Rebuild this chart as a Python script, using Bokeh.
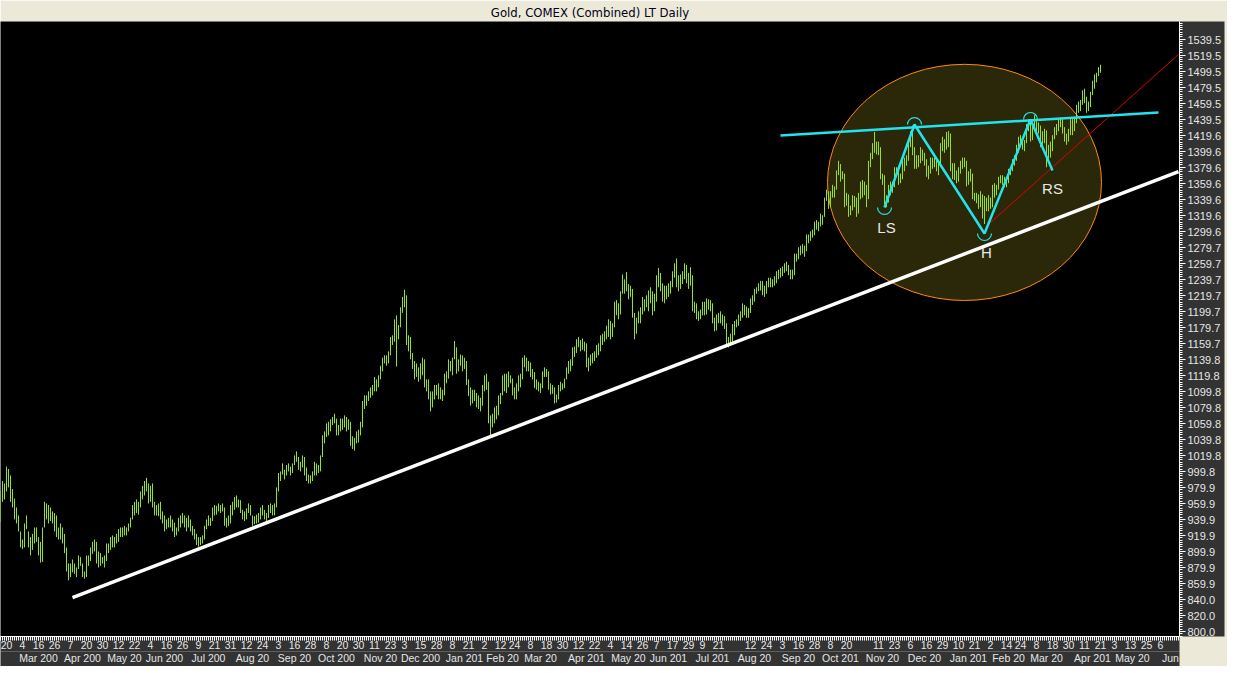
import numpy as np
import pandas as pd
from bokeh.plotting import figure
from bokeh.models import FixedTicker, LinearAxis, Range1d
from bokeh.core.properties import value
from bokeh.embed import file_html
from bokeh.resources import INLINE

# ---------------- data ----------------
title_text = "Gold, COMEX (Combined) LT Daily"
first_trading_day = "2009-02-17"
calendar_end = "2011-06-30"
exchange_holidays = ["2009-04-10", "2009-05-25", "2009-07-03", "2009-09-07", "2009-11-26",
                     "2009-12-25", "2010-01-01", "2010-01-18", "2010-02-15", "2010-04-02",
                     "2010-05-31", "2010-07-05", "2010-09-06", "2010-11-25", "2010-12-24",
                     "2011-01-17", "2011-02-21", "2011-04-22", "2011-05-30"]

highs = [
    976, 988, 985, 1006, 1003, 995, 978, 966, 955,  # Feb 09
    945, 925, 915, 935, 945, 925, 918, 922, 930, 930, 918, 912, 930, 962, 960, 958, 955, 950, 948, 945, 930, 935,  # Mar 09
    930, 922, 905, 885, 885, 890, 885, 880, 895, 893, 885, 875, 895, 895, 905, 912, 915, 912, 900, 898, 893,  # Apr 09
    895, 910, 910, 918, 920, 918, 922, 928, 930, 930, 932, 930, 935, 942, 958, 962, 965, 962, 975, 982,  # May 09
    988, 992, 985, 982, 985, 962, 958, 960, 962, 950, 945, 940, 942, 945, 940, 936, 930, 942, 945, 948, 945, 942,  # Jun 09
    945, 940, 932, 928, 922, 918, 918, 920, 932, 940, 945, 942, 955, 958, 957, 960, 958, 960, 955, 942, 945, 958,  # Jul 09
    962, 968, 970, 965, 964, 952, 950, 954, 960, 958, 945, 944, 946, 948, 955, 958, 952, 948, 958, 960, 958,  # Aug 09
    960, 980, 998, 1000, 1010, 1002, 1008, 1010, 1006, 1010, 1020, 1025, 1018, 1012, 1020, 1018, 1005, 996, 995, 1000, 1012,  # Sep 09
    1010, 1008, 1020, 1045, 1050, 1060, 1062, 1065, 1068, 1072, 1066, 1058, 1066, 1066, 1070, 1068, 1065, 1062, 1044, 1042, 1050, 1052,  # Oct 09
    1062, 1088, 1095, 1095, 1100, 1105, 1108, 1118, 1115, 1120, 1132, 1142, 1145, 1145, 1150, 1168, 1170, 1190, 1195, 1183,  # Nov 09
    1205, 1218, 1227, 1220, 1170, 1168, 1148, 1138, 1135, 1130, 1135, 1142, 1140, 1115, 1115, 1100, 1100, 1108, 1108, 1110, 1105, 1102,  # Dec 09
    1122, 1125, 1140, 1138, 1142, 1163, 1155, 1140, 1146, 1145, 1142, 1138, 1115, 1105, 1102, 1102, 1098, 1095, 1092,  # Jan 10
    1108, 1120, 1122, 1112, 1070, 1072, 1080, 1082, 1095, 1098, 1120, 1122, 1122, 1125, 1120, 1116, 1105, 1110, 1120,  # Feb 10
    1122, 1142, 1145, 1142, 1138, 1136, 1128, 1124, 1115, 1112, 1110, 1125, 1130, 1128, 1125, 1110, 1108, 1105, 1096, 1108, 1112, 1110, 1116,  # Mar 10
    1130, 1138, 1140, 1155, 1156, 1165, 1168, 1164, 1166, 1162, 1160, 1142, 1146, 1148, 1150, 1158, 1160, 1170, 1172, 1175, 1182,  # Apr 10
    1190, 1188, 1185, 1212, 1214, 1210, 1225, 1246, 1240, 1249, 1234, 1232, 1228, 1198, 1192, 1200, 1205, 1218, 1215, 1220,  # May 10
    1226, 1230, 1225, 1222, 1245, 1254, 1248, 1235, 1232, 1232, 1235, 1238, 1250, 1260, 1266, 1245, 1246, 1250, 1260, 1258, 1248, 1255,  # Jun 10
    1245, 1212, 1210, 1200, 1202, 1212, 1212, 1216, 1215, 1214, 1210, 1192, 1196, 1198, 1200, 1196, 1194, 1185, 1168, 1172, 1184,  # Jul 10
    1188, 1190, 1196, 1200, 1210, 1208, 1206, 1204, 1216, 1220, 1228, 1230, 1235, 1238, 1238, 1232, 1238, 1242, 1242, 1240, 1244, 1250,  # Aug 10
    1252, 1254, 1256, 1260, 1262, 1258, 1252, 1252, 1272, 1272, 1280, 1282, 1284, 1282, 1296, 1296, 1300, 1302, 1312, 1314, 1312,  # Sep 10
    1322, 1320, 1342, 1352, 1350, 1350, 1358, 1356, 1376, 1388, 1384, 1375, 1372, 1348, 1346, 1332, 1345, 1344, 1342, 1348, 1362,  # Oct 10
    1364, 1362, 1358, 1388, 1398, 1410, 1424, 1412, 1412, 1405, 1372, 1370, 1345, 1358, 1362, 1362, 1380, 1380, 1375, 1372, 1390,  # Nov 10
    1392, 1395, 1410, 1425, 1432, 1405, 1395, 1395, 1405, 1402, 1398, 1390, 1382, 1392, 1392, 1392, 1390, 1388, 1410, 1418, 1415, 1424,  # Dec 10
    1425, 1422, 1385, 1385, 1376, 1380, 1388, 1392, 1392, 1388, 1375, 1378, 1372, 1348, 1348, 1346, 1350, 1346, 1344, 1342,  # Jan 11
    1345, 1342, 1358, 1360, 1358, 1368, 1370, 1370, 1368, 1365, 1378, 1380, 1390, 1395, 1408, 1418, 1420, 1416, 1414,  # Feb 11
    1434, 1440, 1438, 1432, 1445, 1440, 1436, 1432, 1425, 1428, 1426, 1408, 1412, 1420, 1430, 1434, 1440, 1442, 1440, 1430, 1422, 1428, 1440,  # Mar 11
    1440, 1442, 1458, 1462, 1464, 1476, 1478, 1468, 1462, 1474, 1488, 1496, 1498, 1505, 1508,  # Apr 11
]
lows = [
    937, 962, 965, 975, 980, 962, 955, 940, 935,
    925, 905, 903, 905, 928, 905, 895, 902, 910, 912, 895, 886, 887, 930, 940, 935, 938, 935, 925, 918, 915, 915,
    910, 898, 875, 864, 868, 874, 872, 868, 878, 882, 868, 866, 868, 882, 888, 897, 900, 885, 880, 882, 885,
    880, 888, 898, 902, 905, 905, 910, 912, 918, 918, 920, 920, 925, 930, 940, 945, 948, 946, 955, 965,
    970, 975, 960, 962, 955, 945, 945, 944, 940, 935, 925, 928, 930, 930, 925, 918, 920, 925, 930, 935, 930, 925,
    930, 925, 920, 915, 908, 906, 908, 910, 915, 928, 932, 932, 938, 945, 946, 950, 948, 950, 932, 930, 932, 935,
    945, 952, 955, 955, 948, 940, 938, 940, 948, 945, 932, 934, 935, 936, 940, 945, 940, 938, 942, 948, 945,
    945, 955, 975, 988, 996, 990, 995, 1000, 995, 998, 1008, 1012, 1002, 1000, 1005, 995, 988, 985, 985, 988, 995,
    995, 998, 1000, 1018, 1035, 1043, 1045, 1050, 1058, 1060, 1045, 1045, 1050, 1052, 1055, 1050, 1052, 1032, 1028, 1026, 1035, 1036,
    1045, 1055, 1078, 1082, 1088, 1092, 1095, 1100, 1100, 1105, 1115, 1125, 1135, 1132, 1135, 1145, 1158, 1162, 1131, 1165,
    1180, 1198, 1205, 1158, 1150, 1140, 1128, 1115, 1118, 1112, 1115, 1120, 1105, 1100, 1090, 1075, 1080, 1090, 1095, 1090, 1090, 1088,
    1095, 1110, 1116, 1125, 1120, 1140, 1122, 1125, 1132, 1125, 1128, 1108, 1094, 1082, 1085, 1088, 1080, 1078, 1075,
    1082, 1100, 1102, 1060, 1045, 1055, 1060, 1065, 1070, 1084, 1095, 1100, 1098, 1105, 1110, 1095, 1090, 1090, 1100,
    1105, 1115, 1130, 1125, 1125, 1118, 1115, 1104, 1102, 1100, 1098, 1104, 1118, 1118, 1102, 1096, 1097, 1085, 1086, 1090, 1100, 1102, 1104,
    1115, 1122, 1125, 1132, 1143, 1148, 1155, 1150, 1152, 1150, 1130, 1125, 1132, 1135, 1138, 1142, 1145, 1150, 1158, 1162, 1165,
    1168, 1165, 1168, 1180, 1195, 1190, 1196, 1222, 1222, 1225, 1215, 1218, 1192, 1165, 1172, 1185, 1185, 1196, 1200, 1205,
    1200, 1210, 1195, 1200, 1212, 1230, 1225, 1212, 1210, 1215, 1218, 1222, 1230, 1242, 1230, 1225, 1228, 1234, 1240, 1235, 1228, 1232,
    1200, 1198, 1190, 1188, 1190, 1195, 1195, 1196, 1202, 1200, 1185, 1175, 1176, 1185, 1185, 1182, 1178, 1158, 1155, 1157, 1162,
    1170, 1180, 1182, 1188, 1192, 1195, 1192, 1192, 1198, 1208, 1212, 1222, 1225, 1226, 1220, 1218, 1222, 1230, 1230, 1230, 1232, 1235,
    1240, 1242, 1244, 1248, 1250, 1245, 1240, 1240, 1245, 1262, 1265, 1270, 1272, 1268, 1275, 1285, 1288, 1292, 1295, 1302, 1300,
    1306, 1308, 1318, 1338, 1328, 1330, 1342, 1342, 1352, 1370, 1362, 1365, 1330, 1332, 1318, 1320, 1326, 1330, 1318, 1322, 1340,
    1342, 1345, 1330, 1340, 1380, 1390, 1398, 1396, 1395, 1365, 1358, 1332, 1330, 1336, 1345, 1348, 1355, 1368, 1358, 1360, 1365,
    1375, 1382, 1388, 1405, 1395, 1378, 1378, 1380, 1385, 1388, 1382, 1368, 1365, 1372, 1378, 1380, 1375, 1370, 1380, 1400, 1398, 1402,
    1405, 1375, 1365, 1364, 1360, 1362, 1372, 1378, 1380, 1356, 1358, 1362, 1340, 1338, 1335, 1328, 1330, 1316, 1309, 1325,
    1325, 1328, 1330, 1342, 1345, 1352, 1360, 1358, 1355, 1355, 1360, 1370, 1375, 1382, 1388, 1398, 1405, 1402, 1400,
    1410, 1425, 1412, 1414, 1425, 1425, 1422, 1405, 1408, 1410, 1380, 1385, 1392, 1400, 1415, 1420, 1425, 1430, 1422, 1412, 1408, 1412, 1420,
    1420, 1425, 1435, 1448, 1450, 1458, 1460, 1448, 1450, 1455, 1470, 1478, 1486, 1494, 1498,
]

day_tick_dates = [
    "2009-02-20", "2009-03-04", "2009-03-16", "2009-03-26", "2009-04-07", "2009-04-20", "2009-04-30",
    "2009-05-12", "2009-05-22", "2009-06-04", "2009-06-16", "2009-06-26", "2009-07-09", "2009-07-21",
    "2009-07-31", "2009-08-12", "2009-08-24", "2009-09-03", "2009-09-16", "2009-09-28", "2009-10-08",
    "2009-10-20", "2009-10-30", "2009-11-11", "2009-11-23", "2009-12-03", "2009-12-15", "2009-12-28",
    "2010-01-08", "2010-01-21", "2010-02-02", "2010-02-12", "2010-02-24", "2010-03-08", "2010-03-18",
    "2010-03-30", "2010-04-12", "2010-04-22", "2010-05-04", "2010-05-14", "2010-05-26", "2010-06-07",
    "2010-06-17", "2010-06-29", "2010-07-09", "2010-07-21", "2010-08-12", "2010-08-24", "2010-09-03",
    "2010-09-16", "2010-09-28", "2010-10-08", "2010-10-20", "2010-11-11", "2010-11-23", "2010-12-06",
    "2010-12-16", "2010-12-29", "2011-01-10", "2011-01-21", "2011-02-02", "2011-02-14", "2011-02-24",
    "2011-03-08", "2011-03-18", "2011-03-30", "2011-04-11", "2011-04-21", "2011-05-03", "2011-05-13",
    "2011-05-25", "2011-06-06",
]
month_starts = ["2009-03", "2009-04", "2009-05", "2009-06", "2009-07", "2009-08", "2009-09", "2009-10",
                "2009-11", "2009-12", "2010-01", "2010-02", "2010-03", "2010-04", "2010-05", "2010-06",
                "2010-07", "2010-08", "2010-09", "2010-10", "2010-11", "2010-12", "2011-01", "2011-02",
                "2011-03", "2011-04", "2011-05", "2011-06"]
month_labels = ["Mar 200", "Apr 200", "May 20", "Jun 200", "Jul 200", "Aug 20", "Sep 20", "Oct 200",
                "Nov 20", "Dec 200", "Jan 201", "Feb 20", "Mar 20", "Apr 201", "May 20", "Jun 201",
                "Jul 201", "Aug 20", "Sep 20", "Oct 201", "Nov 20", "Dec 20", "Jan 201", "Feb 20",
                "Mar 20", "Apr 201", "May 20", "Jun"]
price_tick_labels = ["1539.5", "1519.5", "1499.5", "1479.5", "1459.5", "1439.5", "1419.6", "1399.6",
                     "1379.6", "1359.6", "1339.6", "1319.6", "1299.6", "1279.7", "1259.7", "1239.7",
                     "1219.7", "1199.7", "1179.7", "1159.7", "1139.8", "1119.8", "1099.8", "1079.8",
                     "1059.8", "1039.8", "1019.8", "999.8", "979.9", "959.9", "939.9", "919.9",
                     "899.9", "879.9", "859.9", "840.0", "820.0", "800.0"]

# drawn annotations (dates, prices)
support_dates = ["2009-04-08", "2011-06-17"]
support_prices = [842.5, 1374.6]
neckline_dates = ["2010-09-02", "2011-06-03"]
neckline_prices = [1419.6, 1448.3]
hs_dates = ["2010-11-16", "2010-12-08", "2011-01-28", "2011-03-03", "2011-03-18"]
hs_prices = [1329.7, 1433.3, 1297.2, 1439.6, 1375.9]
cup_idx = [0, 2]      # arcs under LS and H
cap_idx = [1, 3]      # arcs over the two peaks
red_dates = ["2011-01-31", "2011-06-17"]
red_prices = [1306.3, 1520.8]
ellipse_center_date = "2011-01-13"
ellipse_center_price = 1361.0
ellipse_width_bars = 137
ellipse_height_price = 295
pattern_labels = ["LS", "H", "RS"]
pattern_label_dates = ["2010-11-17", "2011-01-31", "2011-03-18"]
pattern_label_prices = [1304.7, 1273.5, 1353.4]

# ---------------- calendar ----------------
cal = pd.bdate_range(first_trading_day, calendar_end)
cal = cal[~cal.isin(pd.to_datetime(exchange_holidays))]


def idx(d):
    return int(cal.searchsorted(pd.Timestamp(d)))


n = min(len(highs), len(lows))
bar_x = np.arange(n)

FRAME_W = 1179
X0 = 0.0
X1 = X0 + FRAME_W / 2.0
BAR = "#96E21E"
CYAN = "#22E4EE"
AXIS_BG = "#333333"
TXT = "#E6E6E6"

p = figure(frame_width=FRAME_W, frame_height=615, output_backend="svg", toolbar_location=None,
           x_range=Range1d(X0, X1), y_range=Range1d(793.8, 1562),
           y_axis_location="right", title=title_text,
           background_fill_color="black", border_fill_color="#ECE9D8",
           min_border_left=0, min_border_right=48, min_border_top=0, min_border_bottom=0)
p.grid.visible = False
p.outline_line_color = None

p.title.align = "center"
p.title.offset = 24
p.title.standoff = 4
p.title.text_font = "Liberation Sans Narrow, DejaVu Sans Condensed, sans-serif"
p.title.text_font_size = "13px"
p.title.text_font_style = "normal"
p.title.text_color = "#000020"
p.title.background_fill_color = "#ECE9D8"

# right price axis
ya = p.yaxis[0]
y_ticks = [float(s) for s in price_tick_labels]
ya.ticker = FixedTicker(ticks=y_ticks, minor_ticks=list(np.arange(760, 1580, 20 / 7)))
ya.major_label_overrides = {float(s): s for s in price_tick_labels}
ya.axis_line_color = "white"
ya.major_tick_line_color = "white"
ya.major_tick_in = 0
ya.major_tick_out = 6
ya.minor_tick_line_color = "white"
ya.minor_tick_in = 0
ya.minor_tick_out = 3
ya.major_label_standoff = 2
ya.major_label_text_color = TXT
ya.major_label_text_font = "Liberation Sans"
ya.major_label_text_font_size = "11px"
ya.background_fill_color = AXIS_BG

# bottom day axis
xa = p.xaxis[0]
day_ticks = [idx(d) for d in day_tick_dates]
xa.ticker = FixedTicker(ticks=day_ticks, minor_ticks=list(range(0, int(X1) + 1)))
xa.major_label_overrides = {idx(d): str(pd.Timestamp(d).day) for d in day_tick_dates}
xa.axis_line_color = "white"
xa.major_tick_line_color = "white"
xa.major_tick_in = 0
xa.major_tick_out = 4
xa.minor_tick_line_color = "white"
xa.minor_tick_in = 0
xa.minor_tick_out = 4
xa.major_label_standoff = 0
xa.axis_label_standoff = 0
xa.major_label_text_color = TXT
xa.major_label_text_font = "Liberation Sans"
xa.major_label_text_font_size = "10.5px"
xa.background_fill_color = AXIS_BG

# bottom month axis
m_ticks = []
m_over = {}
for ms, lab in zip(month_starts, month_labels):
    t = min(idx(ms + "-01") + 10, int(X1) - 4)
    m_ticks.append(t)
    m_over[t] = lab
ma = LinearAxis(ticker=FixedTicker(ticks=m_ticks, minor_ticks=[]), major_label_overrides=m_over,
                axis_line_color=None, major_tick_line_color=None, minor_tick_line_color=None,
                major_tick_out=0, major_tick_in=0, major_label_standoff=0, axis_label_standoff=0,
                major_label_text_color=TXT, major_label_text_font="Liberation Sans",
                major_label_text_font_size="10.5px", background_fill_color=AXIS_BG)
p.add_layout(ma, "below")

# ellipse highlight
p.ellipse(x=[idx(ellipse_center_date)], y=[ellipse_center_price], width=[ellipse_width_bars],
          height=[ellipse_height_price], fill_color="#2A2809", line_color="#FF8A10", line_width=1)

# price bars
p.segment(x0=bar_x, y0=lows[:n], x1=bar_x, y1=highs[:n], line_color=BAR, line_width=1)

# support trend line
p.line([idx(d) for d in support_dates], support_prices, line_color="white", line_width=3.5)
# red line
p.line([idx(d) for d in red_dates], red_prices, line_color="#E00000", line_width=1)
# neckline
p.line([idx(d) for d in neckline_dates], neckline_prices, line_color=CYAN, line_width=2.5)
# head & shoulders zigzag
hs_x = [idx(d) for d in hs_dates]
p.line(hs_x, hs_prices, line_color=CYAN, line_width=2.5)
p.arc(x=[hs_x[i] for i in cup_idx], y=[hs_prices[i] for i in cup_idx], radius=7, radius_units="screen",
      start_angle=np.pi, end_angle=2 * np.pi, direction="anticlock", line_color=CYAN, line_width=1.2)
p.arc(x=[hs_x[i] for i in cap_idx], y=[hs_prices[i] for i in cap_idx], radius=7, radius_units="screen",
      start_angle=0, end_angle=np.pi, direction="anticlock", line_color=CYAN, line_width=1.2)

p.text(x=[idx(d) for d in pattern_label_dates], y=pattern_label_prices, text=pattern_labels,
       text_font=value("Liberation Sans"), text_font_size="15px", text_color="#E8E8E8",
       text_align="center", text_baseline="middle")

open("out.html", "w").write(file_html(p, INLINE))
